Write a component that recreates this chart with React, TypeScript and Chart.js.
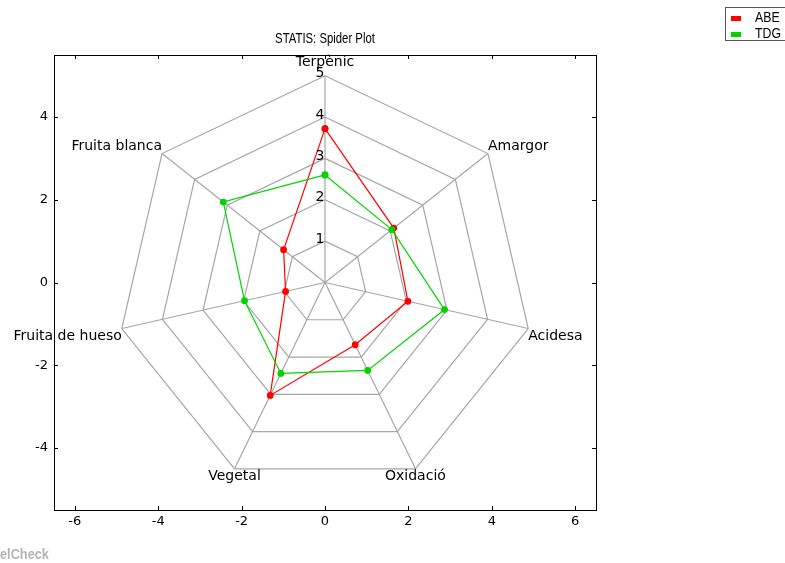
import { useEffect, useRef } from "react";
import { Chart, registerables } from "chart.js";

Chart.register(...registerables);

// Spider plot data: one value per attribute, attributes listed clockwise from the top.
const TITLE = "STATIS: Spider Plot";
const CATEGORIES = [
  "Terpènic",
  "Amargor",
  "Acidesa",
  "Oxidació",
  "Vegetal",
  "Fruita de hueso",
  "Fruita blanca",
];
const SERIES_NAMES = ["ABE", "TDG"];
const ABE_VALUES = [3.72, 2.11, 2.04, 1.67, 3.03, 0.97, 1.27];
const TDG_VALUES = [2.6, 2.05, 2.94, 2.36, 2.44, 1.98, 3.12];
const RING_LEVELS = [1, 2, 3, 4, 5];
const X_TICKS = [-6, -4, -2, 0, 2, 4, 6];
const Y_TICKS = [-4, -2, 0, 2, 4];
const WATERMARK = "elCheck";

const RED = "#ff0000";
const GREEN = "#00d400";
const WEB_GREY = "#a6a6a6";
const SANS = '"Liberation Sans", Arial, sans-serif';
const DEJAVU = '"DejaVu Sans", sans-serif';

const N = CATEGORIES.length;
const angleOf = (i: number) => Math.PI / 2 - (i * 2 * Math.PI) / N;

const polygon = (values: number[]) => {
  const pts = values.map((r, i) => ({ x: r * Math.cos(angleOf(i)), y: r * Math.sin(angleOf(i)) }));
  pts.push({ ...pts[0] });
  return pts;
};

const outerLevel = RING_LEVELS[RING_LEVELS.length - 1];

// Draws text horizontally condensed (narrow face look)
const narrowText = (ctx: CanvasRenderingContext2D, text: string, x: number, y: number, squeeze: number) => {
  ctx.save();
  ctx.translate(x, y);
  ctx.scale(squeeze, 1);
  ctx.fillText(text, 0, 0);
  ctx.restore();
};

const spiderDecor = {
  id: "spiderDecor",
  afterDraw(chart: any) {
    const { ctx, chartArea, scales } = chart;
    const xs = scales.x;
    const ys = scales.y;
    const px = (v: number) => xs.getPixelForValue(v);
    const py = (v: number) => ys.getPixelForValue(v);
    ctx.save();

    // Radial level numbers along the top spoke
    ctx.fillStyle = "#000";
    ctx.font = `14px ${DEJAVU}`;
    ctx.textAlign = "center";
    ctx.textBaseline = "middle";
    RING_LEVELS.forEach((lv) => {
      ctx.fillText(String(lv), px(0) - 5, py(lv) - 2);
    });

    // Attribute names at the outer vertices
    CATEGORIES.forEach((name, i) => {
      const a = angleOf(i);
      const c = Math.cos(a);
      const s = Math.sin(a);
      const x = px(outerLevel * c);
      let y = py(outerLevel * s);
      ctx.textAlign = c > 0.5 ? "left" : c < -0.5 ? "right" : "center";
      ctx.textBaseline = s > 0.1 ? "bottom" : s < -0.1 ? "top" : "middle";
      if (Math.abs(c) <= 0.1 && s > 0) y -= 6;
      if (s < -0.1) y += 1;
      ctx.fillText(name, x, y);
    });

    // Axes frame with inward tick marks on all sides
    const { left, right, top, bottom } = chartArea;
    ctx.strokeStyle = "#000";
    ctx.lineWidth = 1;
    ctx.strokeRect(Math.round(left) + 0.5, Math.round(top) + 0.5, Math.round(right - left), Math.round(bottom - top));
    ctx.beginPath();
    X_TICKS.forEach((v) => {
      const x = Math.round(px(v)) + 0.5;
      ctx.moveTo(x, bottom);
      ctx.lineTo(x, bottom - 4);
      ctx.moveTo(x, top);
      ctx.lineTo(x, top + 4);
    });
    Y_TICKS.forEach((v) => {
      const y = Math.round(py(v)) + 0.5;
      ctx.moveTo(left, y);
      ctx.lineTo(left + 4, y);
      ctx.moveTo(right, y);
      ctx.lineTo(right - 4, y);
    });
    ctx.stroke();

    // Title
    ctx.fillStyle = "#000";
    ctx.font = `14px ${SANS}`;
    ctx.textAlign = "center";
    ctx.textBaseline = "middle";
    narrowText(ctx, TITLE, (left + right) / 2, 39.5, 0.81);

    // Legend box in the top-right corner
    ctx.strokeStyle = "#555";
    ctx.strokeRect(725.5, 7.5, 70, 33);
    const colors = [RED, GREEN];
    SERIES_NAMES.forEach((name, i) => {
      const cy = 17.5 + i * 16.5;
      ctx.fillStyle = colors[i];
      ctx.fillRect(731, Math.round(cy) - 2, 10, 5);
      ctx.fillStyle = "#000";
      ctx.font = `15px ${SANS}`;
      ctx.textAlign = "left";
      ctx.textBaseline = "middle";
      narrowText(ctx, name, 755, cy, 0.82);
    });

    // Footer mark
    ctx.fillStyle = "#b5b5b5";
    ctx.font = `bold 15px ${SANS}`;
    ctx.textAlign = "left";
    ctx.textBaseline = "middle";
    narrowText(ctx, WATERMARK, 0, 555, 0.85);

    ctx.restore();
  },
};

export default function App() {
  const canvasRef = useRef<HTMLCanvasElement | null>(null);

  useEffect(() => {
    const canvas = canvasRef.current;
    if (!canvas) return;

    const webSets: any[] = RING_LEVELS.map((lv) => ({
      data: polygon(CATEGORIES.map(() => lv)),
      showLine: true,
      borderColor: WEB_GREY,
      borderWidth: 1.2,
      pointRadius: 0,
      order: 10,
    }));
    CATEGORIES.forEach((_, i) => {
      webSets.push({
        data: [
          { x: 0, y: 0 },
          { x: outerLevel * Math.cos(angleOf(i)), y: outerLevel * Math.sin(angleOf(i)) },
        ],
        showLine: true,
        borderColor: WEB_GREY,
        borderWidth: 1.2,
        pointRadius: 0,
        order: 10,
      });
    });

    const seriesSets = [
      {
        label: SERIES_NAMES[0],
        data: polygon(ABE_VALUES),
        showLine: true,
        borderColor: RED,
        backgroundColor: RED,
        pointBackgroundColor: RED,
        pointBorderColor: RED,
        borderWidth: 1.2,
        pointRadius: 2.8,
        order: 2,
      },
      {
        label: SERIES_NAMES[1],
        data: polygon(TDG_VALUES),
        showLine: true,
        borderColor: GREEN,
        backgroundColor: GREEN,
        pointBackgroundColor: GREEN,
        pointBorderColor: GREEN,
        borderWidth: 1.2,
        pointRadius: 2.8,
        order: 1,
      },
    ];

    const tickFont = { family: DEJAVU, size: 13 };

    const chart = new Chart(canvas, {
      type: "scatter",
      data: { datasets: [...seriesSets, ...webSets] },
      options: {
        animation: false,
        responsive: false,
        devicePixelRatio: 1,
        events: [],
        layout: { padding: { left: 0, top: 55, right: 189, bottom: 0 } },
        plugins: {
          legend: { display: false },
          title: { display: false },
          tooltip: { enabled: false },
        },
        scales: {
          x: {
            type: "linear",
            min: -6.5,
            max: 6.5,
            grid: { display: false, drawTicks: false },
            border: { display: false },
            afterBuildTicks: (s: any) => {
              s.ticks = X_TICKS.map((v) => ({ value: v }));
            },
            afterFit: (s: any) => {
              s.height = 53;
            },
            ticks: { font: tickFont, color: "#000", padding: 4, autoSkip: false, maxRotation: 0 },
          },
          y: {
            type: "linear",
            min: -5.5,
            max: 5.5,
            grid: { display: false, drawTicks: false },
            border: { display: false },
            afterBuildTicks: (s: any) => {
              s.ticks = Y_TICKS.map((v) => ({ value: v }));
            },
            afterFit: (s: any) => {
              s.width = 54;
            },
            ticks: { font: tickFont, color: "#000", padding: 6, autoSkip: false },
          },
        },
      },
      plugins: [spiderDecor],
    } as any);

    return () => chart.destroy();
  }, []);

  return (
    <div style={{ position: "fixed", left: 0, top: 0, width: 785, height: 563, background: "#fff" }}>
      <canvas ref={canvasRef} width={785} height={563} style={{ display: "block" }} />
    </div>
  );
}
